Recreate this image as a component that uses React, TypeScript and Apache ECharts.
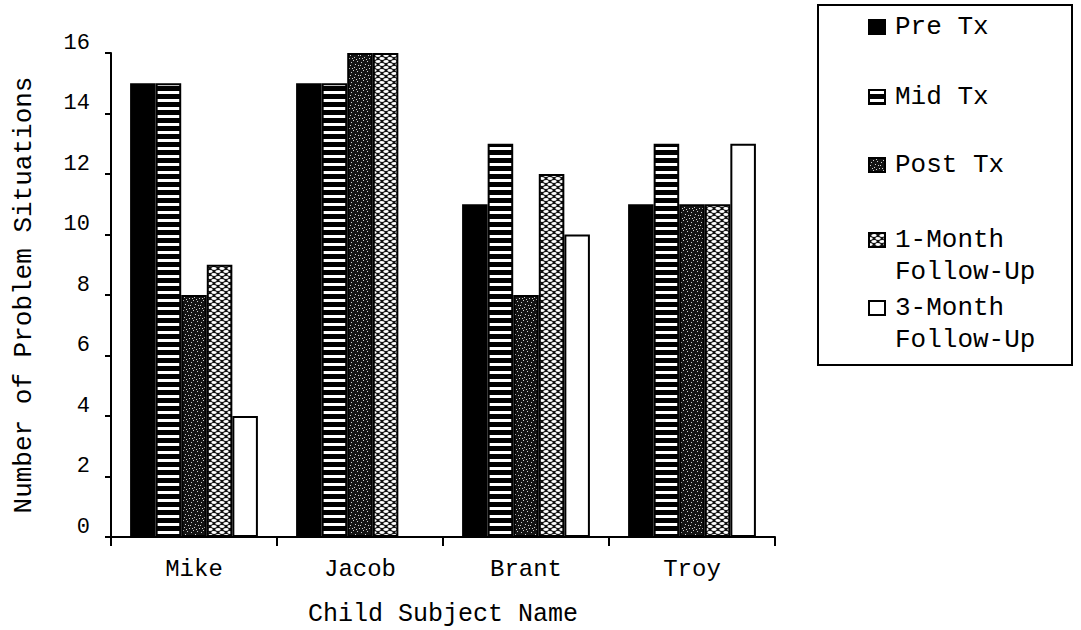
import React, { useEffect, useRef } from "react";
import * as echarts from "echarts";

const categories = ["Mike", "Jacob", "Brant", "Troy"];
const seriesNames = ["Pre Tx", "Mid Tx", "Post Tx", "1-Month\nFollow-Up", "3-Month\nFollow-Up"];
const preTx = [15, 15, 11, 11];
const midTx = [15, 15, 13, 13];
const postTx = [8, 16, 8, 11];
const oneMonth = [9, 16, 12, 11];
const threeMonth = [4, 0, 10, 13];
const yTicks = [0, 2, 4, 6, 8, 10, 12, 14, 16];

const FONT = "'Liberation Mono', 'DejaVu Sans Mono', monospace";

function makeTile(w: number, h: number, draw: (c: CanvasRenderingContext2D) => void) {
  const cv = document.createElement("canvas");
  cv.width = w;
  cv.height = h;
  const ctx = cv.getContext("2d")!;
  draw(ctx);
  return { image: cv, repeat: "repeat" } as any;
}

export default function App() {
  const ref = useRef<HTMLDivElement>(null);
  useEffect(() => {
    if (!ref.current) return;
    const chart = echarts.init(ref.current, undefined, { renderer: "svg" });

    const stripes = makeTile(4, 8, (c) => {
      c.fillStyle = "#000";
      c.fillRect(0, 0, 4, 8);
      c.fillStyle = "#fff";
      c.fillRect(0, 3, 4, 3);
    });
    const speckle = makeTile(10, 10, (c) => {
      c.fillStyle = "#141414";
      c.fillRect(0, 0, 10, 10);
      c.fillStyle = "#cfcfcf";
      const pts = [[1, 2], [4, 7], [7, 1], [8, 5], [2, 8], [5, 4], [0, 5], [6, 9], [9, 8], [3, 0]];
      pts.forEach(([x, y]) => c.fillRect(x, y, 1, 1));
    });
    const mesh = makeTile(8, 6, (c) => {
      c.fillStyle = "#111";
      c.fillRect(0, 0, 8, 6);
      c.fillStyle = "#fff";
      const ell = (x: number, y: number) => {
        c.beginPath();
        c.ellipse(x, y, 2.7, 1.4, 0, 0, Math.PI * 2);
        c.fill();
      };
      ell(2, 1.5);
      ell(6, 4.5);
      ell(-2, 4.5);
      ell(10, 1.5);
    });

    const fills: any[] = ["#000", stripes, speckle, mesh, "#fff"];
    const values = [preTx, midTx, postTx, oneMonth, threeMonth];

    const legendTop = [27, 97, 165, 240, 308];
    const legendGraphics: any[] = [
      {
        type: "rect",
        shape: { x: 818, y: 5, width: 254, height: 360 },
        style: { fill: "#fff", stroke: "#000", lineWidth: 2 },
        z: 10,
      },
    ];
    seriesNames.forEach((name, i) => {
      legendGraphics.push({
        type: "rect",
        shape: { x: 869, y: legendTop[i] - 7, width: 16, height: 14 },
        style: { fill: fills[i], stroke: "#000", lineWidth: 2 },
        z: 11,
      });
      legendGraphics.push({
        type: "text",
        x: 895,
        y: legendTop[i] - 16,
        style: {
          text: name,
          font: `26px ${FONT}`,
          fill: "#000",
          verticalAlign: "top",
          align: "left",
          lineHeight: 32,
        },
        z: 11,
      });
    });

    chart.setOption({
      animation: false,
      backgroundColor: "#fff",
      grid: {
        left: 111,
        right: 306,
        top: 53,
        bottom: 93,
        containLabel: false,
        outerBoundsMode: "none",
      },
      xAxis: {
        type: "category",
        data: categories,
        name: "Child Subject Name",
        nameLocation: "middle",
        nameGap: 64,
        nameTextStyle: { fontFamily: FONT, fontSize: 25, color: "#000", lineHeight: 26 },
        axisLine: { lineStyle: { color: "#000", width: 2 } },
        axisTick: { show: true, length: 9, lineStyle: { color: "#000", width: 2 } },
        axisLabel: { fontFamily: FONT, fontSize: 24, color: "#000", margin: 20 },
      },
      yAxis: {
        type: "value",
        min: 0,
        max: 16,
        interval: 2,
        name: "Number of Problem Situations",
        nameLocation: "middle",
        nameGap: 74,
        nameRotate: 90,
        nameTextStyle: { fontFamily: FONT, fontSize: 26, color: "#000" },
        axisLine: { show: true, lineStyle: { color: "#000", width: 2 } },
        axisTick: { show: true, length: 6, lineStyle: { color: "#000", width: 2 } },
        splitLine: { show: false },
        axisLabel: {
          fontFamily: FONT,
          fontSize: 22,
          color: "#000",
          margin: 21,
          verticalAlign: "bottom",
          lineHeight: 20,
          formatter: (v: number) => (yTicks.includes(v) ? String(v) : ""),
        },
      },
      graphic: legendGraphics,
      series: seriesNames.map((name, i) => ({
        type: "bar",
        name,
        data: values[i],
        barGap: "0%",
        barCategoryGap: "23%",
        itemStyle: { color: fills[i], borderColor: "#000", borderWidth: 2 },
      })),
    });
    return () => chart.dispose();
  }, []);
  return (
    <div
      ref={ref}
      style={{ position: "fixed", left: 0, top: 0, width: 1081, height: 630, background: "#fff" }}
    />
  );
}
